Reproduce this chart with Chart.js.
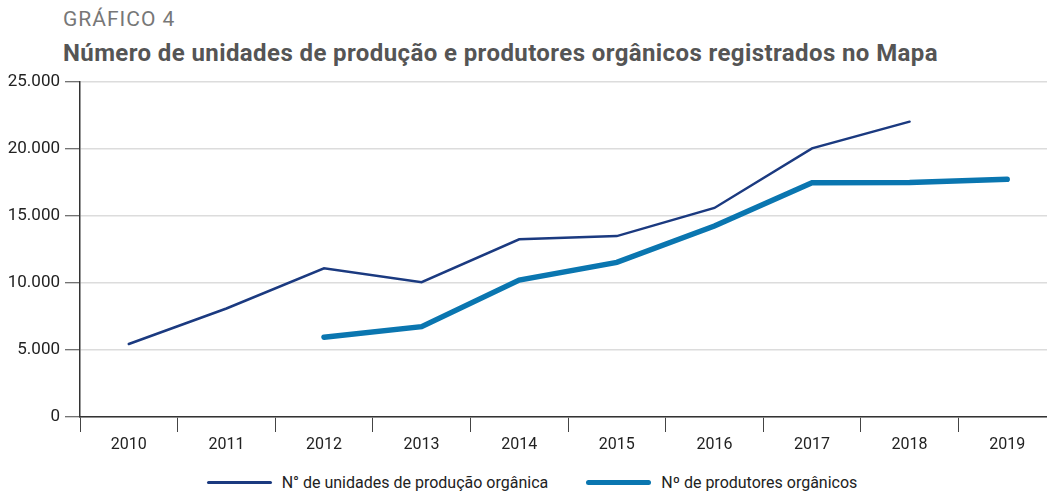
<!DOCTYPE html>
<html>
<head>
<meta charset="utf-8">
<script src="https://cdn.jsdelivr.net/npm/chart.js@4"></script>
<style>
  body { margin: 0; background: #fff; overflow: hidden; width: 1047px; height: 493px; position: relative; font-family: Roboto, sans-serif; }
  #kicker { position: absolute; left: 63px; top: 7px; font-size: 21px; color: #777; letter-spacing: 1px; }
  #title { position: absolute; left: 63px; top: 39px; font-size: 24px; font-weight: bold; color: #555; white-space: nowrap; letter-spacing: 0.4px; }
  #wrap { position: absolute; left: 0; top: 0; }
  #legend { position: absolute; top: 473px; left: 0; width: 1064px; display: flex; justify-content: center; font-size: 16px; color: #222; }
  .item { display: flex; align-items: center; margin: 0 19px; }
  .swatch { width: 65px; margin-right: 10px; border-radius: 4px; }
</style>
</head>
<body>
<div id="kicker">GRÁFICO 4</div>
<div id="title">Número de unidades de produção e produtores orgânicos registrados no Mapa</div>
<div id="wrap"><canvas id="chart" width="1056" height="457"></canvas></div>
<div id="legend"></div>
<script>
// anos
const years = ["2010", "2011", "2012", "2013", "2014", "2015", "2016", "2017", "2018", "2019"];
// N° de unidades de produção orgânica
const unidades = [5450, 8100, 11100, 10060, 13260, 13500, 15600, 20050, 22040, null];
// Nº de produtores orgânicos
const produtores = [null, null, 5950, 6740, 10220, 11540, 14250, 17490, 17500, 17740];
const seriesNames = ["N° de unidades de produção orgânica", "Nº de produtores orgânicos"];
const seriesColors = ["#1b3a80", "#0a76b0"];
const seriesWidths = [2.5, 5.5];

const fmt = (v) => String(v).replace(/\B(?=(\d{3})+(?!\d))/g, ".");

const chart = new Chart(document.getElementById("chart"), {
    type: "line",
    data: {
        labels: years,
        datasets: [
            { label: seriesNames[0], data: unidades, borderColor: seriesColors[0], borderWidth: seriesWidths[0], pointRadius: 0, borderCapStyle: "round" },
            { label: seriesNames[1], data: produtores, borderColor: seriesColors[1], borderWidth: seriesWidths[1], pointRadius: 0, borderCapStyle: "round" },
        ],
    },
    options: {
        responsive: false,
        animation: false,
        layout: { padding: { top: 82, left: 0, right: 0, bottom: 0 } },
        plugins: { legend: { display: false }, tooltip: { enabled: false } },
        scales: {
            x: {
                offset: true,
                grid: { offset: true, drawOnChartArea: false, tickLength: 15, color: "#444", lineWidth: 1 },
                border: { color: "#333", width: 1.5 },
                ticks: { color: "#222", padding: 3, font: { family: "Roboto", size: 16 } },
                afterFit: (s) => { s.height = 40; },
            },
            y: {
                min: 0,
                max: 25000,
                ticks: { stepSize: 5000, color: "#222", padding: 5, font: { family: "Roboto", size: 17 }, callback: (v) => fmt(v) },
                grid: { color: "#dcdcdc", lineWidth: 1.5, tickLength: 15, tickColor: "#444", tickWidth: 1 },
                border: { color: "#333", width: 1.5 },
                afterFit: (s) => { s.width = 80; },
            },
        },
    },
});

// legenda
const legend = document.getElementById("legend");
chart.data.datasets.forEach((ds) => {
    const item = document.createElement("div");
    item.className = "item";
    const sw = document.createElement("span");
    sw.className = "swatch";
    sw.style.height = ds.borderWidth + "px";
    sw.style.background = ds.borderColor;
    const tx = document.createElement("span");
    tx.textContent = ds.label;
    item.appendChild(sw);
    item.appendChild(tx);
    legend.appendChild(item);
});
</script>
</body>
</html>
